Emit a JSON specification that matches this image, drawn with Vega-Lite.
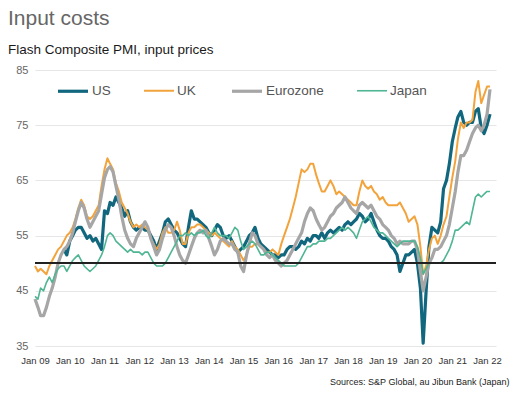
{
"$schema": "https://vega.github.io/schema/vega-lite/v6.json",
"width": 461, "height": 276,
"autosize": {"type": "none"},
"padding": {"left": 35, "top": 70, "right": 26, "bottom": 52},
"background": "white",
"config": {"view": {"stroke": null}, "font": "Liberation Sans"},
"title": {"text": "Input costs", "subtitle": "Flash Composite PMI, input prices", "anchor": "start", "frame": "group", "dx": -27, "offset": 8, "fontSize": 21, "fontWeight": "normal", "color": "#666666", "font": "Liberation Sans", "subtitleFont": "Liberation Sans", "subtitleFontSize": 13.5, "subtitleColor": "#1a1a1a", "subtitlePadding": 14},
"data": {"values": [
{"date":"2009-01-01","UK":49.5,"Eurozone":43.5,"Japan":44},
{"date":"2009-02-01","UK":48.5,"Eurozone":42,"Japan":43.5},
{"date":"2009-03-01","UK":49,"Eurozone":40.5,"Japan":45.5},
{"date":"2009-04-01","UK":48.5,"Eurozone":40.5,"Japan":45},
{"date":"2009-05-01","UK":48,"Eurozone":42,"Japan":46.5},
{"date":"2009-06-01","UK":49.5,"Eurozone":44,"Japan":47.5},
{"date":"2009-07-01","UK":50.5,"Eurozone":45.5,"Japan":46.5},
{"date":"2009-08-01","UK":51.5,"Eurozone":47.5,"Japan":48},
{"date":"2009-09-01","UK":52.5,"Eurozone":50,"Japan":49},
{"date":"2009-10-01","UK":53,"Eurozone":51.5,"Japan":49.5},
{"date":"2009-11-01","US":52.5,"UK":54,"Eurozone":52.5,"Japan":49.5},
{"date":"2009-12-01","US":51.5,"UK":55,"Eurozone":53,"Japan":48.5},
{"date":"2010-01-01","US":54,"UK":55.5,"Eurozone":54,"Japan":49.5},
{"date":"2010-02-01","US":55,"UK":56.5,"Eurozone":55.5,"Japan":50.5},
{"date":"2010-03-01","US":56,"UK":58,"Eurozone":57.5,"Japan":51},
{"date":"2010-04-01","US":56.5,"UK":60,"Eurozone":59.5,"Japan":51.5},
{"date":"2010-05-01","US":56.5,"UK":61.5,"Eurozone":61,"Japan":50.5},
{"date":"2010-06-01","US":55.5,"UK":60.5,"Eurozone":60,"Japan":49.5},
{"date":"2010-07-01","US":54.5,"UK":58.5,"Eurozone":58,"Japan":49},
{"date":"2010-08-01","US":55,"UK":58,"Eurozone":56.5,"Japan":48.5},
{"date":"2010-09-01","US":54,"UK":58.5,"Eurozone":57.5,"Japan":49},
{"date":"2010-10-01","US":54.5,"UK":59.5,"Eurozone":58.5,"Japan":49.5},
{"date":"2010-11-01","US":53.5,"UK":60.5,"Eurozone":59.5,"Japan":50.5},
{"date":"2010-12-01","US":52.5,"UK":64,"Eurozone":62.5,"Japan":51.5},
{"date":"2011-01-01","US":59.5,"UK":67,"Eurozone":65.5,"Japan":53},
{"date":"2011-02-01","US":59,"UK":69,"Eurozone":67,"Japan":55},
{"date":"2011-03-01","US":61,"UK":68,"Eurozone":67.5,"Japan":55.5},
{"date":"2011-04-01","US":60.5,"UK":67,"Eurozone":66.5,"Japan":55},
{"date":"2011-05-01","US":62,"UK":64.5,"Eurozone":64,"Japan":54},
{"date":"2011-06-01","US":61,"UK":63,"Eurozone":61.5,"Japan":53.5},
{"date":"2011-07-01","US":60,"UK":61,"Eurozone":58.5,"Japan":53},
{"date":"2011-08-01","US":58.5,"UK":60,"Eurozone":56,"Japan":52.5},
{"date":"2011-09-01","US":59.5,"UK":59,"Eurozone":54.5,"Japan":52},
{"date":"2011-10-01","US":57.5,"UK":57.5,"Eurozone":53.5,"Japan":52.5},
{"date":"2011-11-01","US":56.5,"UK":56.5,"Eurozone":53,"Japan":52},
{"date":"2011-12-01","US":56,"UK":57,"Eurozone":54.5,"Japan":52},
{"date":"2012-01-01","US":56.5,"UK":56.5,"Eurozone":55.5,"Japan":52},
{"date":"2012-02-01","US":56.5,"UK":57,"Eurozone":56.5,"Japan":51.5},
{"date":"2012-03-01","US":56,"UK":56.5,"Eurozone":57.5,"Japan":52},
{"date":"2012-04-01","US":56,"UK":56,"Eurozone":56.5,"Japan":52},
{"date":"2012-05-01","US":55,"UK":54.5,"Eurozone":54.5,"Japan":51},
{"date":"2012-06-01","US":54,"UK":53.5,"Eurozone":53,"Japan":50},
{"date":"2012-07-01","US":52.5,"UK":52.5,"Eurozone":51.5,"Japan":49.5},
{"date":"2012-08-01","US":54,"UK":53.5,"Eurozone":52.5,"Japan":49.5},
{"date":"2012-09-01","US":55.5,"UK":55.5,"Eurozone":54.5,"Japan":49.5},
{"date":"2012-10-01","US":57.5,"UK":56.5,"Eurozone":56,"Japan":50},
{"date":"2012-11-01","US":58,"UK":55.5,"Eurozone":57,"Japan":51},
{"date":"2012-12-01","US":57,"UK":55.5,"Eurozone":56.5,"Japan":52},
{"date":"2013-01-01","US":56,"UK":56,"Eurozone":55,"Japan":53},
{"date":"2013-02-01","US":55.5,"UK":57.5,"Eurozone":53,"Japan":54},
{"date":"2013-03-01","US":54.5,"UK":56,"Eurozone":51.5,"Japan":55},
{"date":"2013-04-01","US":53.5,"UK":53.5,"Eurozone":50.5,"Japan":55},
{"date":"2013-05-01","US":53,"UK":53.5,"Eurozone":50,"Japan":55.5},
{"date":"2013-06-01","US":56.5,"UK":55.5,"Eurozone":51.5,"Japan":55},
{"date":"2013-07-01","US":59.5,"UK":56.5,"Eurozone":53,"Japan":55.5},
{"date":"2013-08-01","US":58,"UK":56.5,"Eurozone":54.5,"Japan":55},
{"date":"2013-09-01","US":58,"UK":57,"Eurozone":55.5,"Japan":55.5},
{"date":"2013-10-01","US":57.5,"UK":57,"Eurozone":56,"Japan":55.5},
{"date":"2013-11-01","US":57,"UK":56.5,"Eurozone":55.5,"Japan":56},
{"date":"2013-12-01","US":56.5,"UK":56,"Eurozone":56,"Japan":55},
{"date":"2014-01-01","US":55.5,"UK":55.5,"Eurozone":54.5,"Japan":54.5},
{"date":"2014-02-01","US":55,"UK":55,"Eurozone":53,"Japan":55.5},
{"date":"2014-03-01","US":56,"UK":55.5,"Eurozone":51.5,"Japan":56.5},
{"date":"2014-04-01","US":57,"UK":55,"Eurozone":52.5,"Japan":55.5},
{"date":"2014-05-01","US":56.5,"UK":54.5,"Eurozone":54,"Japan":55},
{"date":"2014-06-01","US":55,"UK":54,"Eurozone":54.5,"Japan":55},
{"date":"2014-07-01","US":54.5,"UK":53.5,"Eurozone":54,"Japan":55},
{"date":"2014-08-01","US":55,"UK":53,"Eurozone":53.5,"Japan":54.5},
{"date":"2014-09-01","US":54,"UK":54,"Eurozone":53.5,"Japan":55.5},
{"date":"2014-10-01","US":53,"UK":53,"Eurozone":52.5,"Japan":56.5},
{"date":"2014-11-01","US":52,"UK":52.5,"Eurozone":52,"Japan":56},
{"date":"2014-12-01","US":52.5,"UK":51.5,"Eurozone":49.5,"Japan":54},
{"date":"2015-01-01","US":53,"UK":50.5,"Eurozone":48.5,"Japan":52.5},
{"date":"2015-02-01","US":54,"UK":51.5,"Eurozone":51.5,"Japan":53},
{"date":"2015-03-01","US":55,"UK":53,"Eurozone":53.5,"Japan":53.5},
{"date":"2015-04-01","US":55.5,"UK":53,"Eurozone":55.5,"Japan":54},
{"date":"2015-05-01","US":56.5,"UK":53.5,"Eurozone":55,"Japan":53.5},
{"date":"2015-06-01","US":54.5,"UK":53.5,"Eurozone":53.5,"Japan":52.5},
{"date":"2015-07-01","US":53.5,"UK":53,"Eurozone":53,"Japan":51.5},
{"date":"2015-08-01","US":53,"UK":52.5,"Eurozone":52.5,"Japan":51.5},
{"date":"2015-09-01","US":52.5,"UK":52,"Eurozone":51.5,"Japan":52},
{"date":"2015-10-01","US":52,"UK":52,"Eurozone":51,"Japan":52},
{"date":"2015-11-01","US":51.5,"UK":52.5,"Eurozone":51.5,"Japan":51.5},
{"date":"2015-12-01","US":51.5,"UK":52,"Eurozone":50.5,"Japan":51},
{"date":"2016-01-01","US":51,"UK":51.5,"Eurozone":50,"Japan":50.5},
{"date":"2016-02-01","US":51.5,"UK":53.5,"Eurozone":49.5,"Japan":50},
{"date":"2016-03-01","US":51.5,"UK":55,"Eurozone":50,"Japan":49.5},
{"date":"2016-04-01","US":52.5,"UK":56.5,"Eurozone":50.5,"Japan":49.5},
{"date":"2016-05-01","US":53,"UK":58,"Eurozone":51.5,"Japan":49.5},
{"date":"2016-06-01","US":53,"UK":60,"Eurozone":52.5,"Japan":49.5},
{"date":"2016-07-01","US":52.5,"UK":62,"Eurozone":53.5,"Japan":49.5},
{"date":"2016-08-01","US":53,"UK":64.5,"Eurozone":54.5,"Japan":50},
{"date":"2016-09-01","US":54,"UK":67,"Eurozone":55.5,"Japan":51},
{"date":"2016-10-01","US":53.5,"UK":66.5,"Eurozone":57.5,"Japan":52},
{"date":"2016-11-01","US":54.5,"UK":67,"Eurozone":59,"Japan":53},
{"date":"2016-12-01","US":54,"UK":68,"Eurozone":60,"Japan":53},
{"date":"2017-01-01","US":55,"UK":68,"Eurozone":59.5,"Japan":53.5},
{"date":"2017-02-01","US":55,"UK":66,"Eurozone":58,"Japan":53.5},
{"date":"2017-03-01","US":54.5,"UK":64.5,"Eurozone":57,"Japan":54},
{"date":"2017-04-01","US":55.5,"UK":63,"Eurozone":56,"Japan":54},
{"date":"2017-05-01","US":54.5,"UK":63,"Eurozone":56.5,"Japan":54},
{"date":"2017-06-01","US":55.5,"UK":64,"Eurozone":57.5,"Japan":54.5},
{"date":"2017-07-01","US":56,"UK":65,"Eurozone":58.5,"Japan":54.5},
{"date":"2017-08-01","US":55.5,"UK":64,"Eurozone":59,"Japan":55},
{"date":"2017-09-01","US":56,"UK":62.5,"Eurozone":60,"Japan":55.5},
{"date":"2017-10-01","US":56.5,"UK":63,"Eurozone":60.5,"Japan":56},
{"date":"2017-11-01","US":56,"UK":62.5,"Eurozone":61,"Japan":56.5},
{"date":"2017-12-01","US":57,"UK":62,"Eurozone":62,"Japan":56},
{"date":"2018-01-01","US":57.5,"UK":61.5,"Eurozone":61,"Japan":56.5},
{"date":"2018-02-01","US":57,"UK":61,"Eurozone":60,"Japan":56},
{"date":"2018-03-01","US":57.5,"UK":60.5,"Eurozone":59.5,"Japan":55.5},
{"date":"2018-04-01","US":58,"UK":60.5,"Eurozone":59,"Japan":54.5},
{"date":"2018-05-01","US":59,"UK":63,"Eurozone":60.5,"Japan":56},
{"date":"2018-06-01","US":58.5,"UK":65,"Eurozone":61,"Japan":57.5},
{"date":"2018-07-01","US":57.5,"UK":64,"Eurozone":60.5,"Japan":58},
{"date":"2018-08-01","US":58,"UK":63.5,"Eurozone":60,"Japan":58.5},
{"date":"2018-09-01","US":59,"UK":64,"Eurozone":60.5,"Japan":57.5},
{"date":"2018-10-01","US":57.5,"UK":63,"Eurozone":59.5,"Japan":56.5},
{"date":"2018-11-01","US":56,"UK":62.5,"Eurozone":58.5,"Japan":56},
{"date":"2018-12-01","US":55,"UK":61.5,"Eurozone":58,"Japan":55.5},
{"date":"2019-01-01","US":54.5,"UK":62,"Eurozone":57,"Japan":55.5},
{"date":"2019-02-01","US":54.5,"UK":61,"Eurozone":56.5,"Japan":55},
{"date":"2019-03-01","US":54,"UK":60.5,"Eurozone":56,"Japan":54.5},
{"date":"2019-04-01","US":53,"UK":60.5,"Eurozone":55,"Japan":54},
{"date":"2019-05-01","US":52.5,"UK":60.5,"Eurozone":54.5,"Japan":53.5},
{"date":"2019-06-01","US":51.5,"UK":60.5,"Eurozone":53.5,"Japan":53},
{"date":"2019-07-01","US":48.5,"UK":61,"Eurozone":54,"Japan":53.5},
{"date":"2019-08-01","US":50,"UK":60,"Eurozone":53.5,"Japan":54},
{"date":"2019-09-01","US":51.5,"UK":59,"Eurozone":53.5,"Japan":54},
{"date":"2019-10-01","US":51.5,"UK":57.5,"Eurozone":53.5,"Japan":54},
{"date":"2019-11-01","US":52,"UK":58,"Eurozone":54,"Japan":54},
{"date":"2019-12-01","US":52.5,"UK":58.5,"Eurozone":54,"Japan":54},
{"date":"2020-01-01","US":50,"UK":57,"Eurozone":52.5,"Japan":53},
{"date":"2020-02-01","US":45.5,"UK":53,"Eurozone":48.5,"Japan":51},
{"date":"2020-03-01","US":35.5,"UK":48,"Eurozone":45,"Japan":48},
{"date":"2020-04-01","US":45,"UK":49.5,"Eurozone":47.5,"Japan":49},
{"date":"2020-05-01","US":53,"UK":52.5,"Eurozone":50,"Japan":50},
{"date":"2020-06-01","US":56.5,"UK":54.5,"Eurozone":51,"Japan":50},
{"date":"2020-07-01","US":56,"UK":55,"Eurozone":52.5,"Japan":50},
{"date":"2020-08-01","US":55.5,"UK":53.5,"Eurozone":52.5,"Japan":50},
{"date":"2020-09-01","US":57.5,"UK":55,"Eurozone":53,"Japan":50},
{"date":"2020-10-01","US":63.5,"UK":57,"Eurozone":54,"Japan":50.5},
{"date":"2020-11-01","US":65,"UK":58.5,"Eurozone":55,"Japan":51.5},
{"date":"2020-12-01","US":68,"UK":62,"Eurozone":57,"Japan":52.5},
{"date":"2021-01-01","US":72,"UK":65.5,"Eurozone":60,"Japan":54},
{"date":"2021-02-01","US":74.5,"UK":68.5,"Eurozone":63,"Japan":56},
{"date":"2021-03-01","US":76.5,"UK":72.5,"Eurozone":66.5,"Japan":56},
{"date":"2021-04-01","US":77.5,"UK":75.5,"Eurozone":69.5,"Japan":56.5},
{"date":"2021-05-01","US":75.5,"UK":74.5,"Eurozone":69.5,"Japan":57},
{"date":"2021-06-01","US":75,"UK":75.5,"Eurozone":70.5,"Japan":57.5},
{"date":"2021-07-01","US":75.5,"UK":75.5,"Eurozone":72,"Japan":57},
{"date":"2021-08-01","US":75.5,"UK":76,"Eurozone":73.5,"Japan":59.5},
{"date":"2021-09-01","US":77.5,"UK":81,"Eurozone":74.5,"Japan":62},
{"date":"2021-10-01","US":78,"UK":83,"Eurozone":75,"Japan":62.5},
{"date":"2021-11-01","US":74.5,"UK":79,"Eurozone":74,"Japan":62},
{"date":"2021-12-01","US":73.5,"UK":80.5,"Eurozone":75,"Japan":62.5},
{"date":"2022-01-01","US":75,"UK":82,"Eurozone":77,"Japan":63},
{"date":"2022-02-01","US":77,"UK":82,"Eurozone":81.5,"Japan":63}
]},
"transform": [{"fold": ["US", "UK", "Eurozone", "Japan"], "as": ["series", "value"]}, {"filter": "isValid(datum.value)"}],
"layer": [
{"transform": [{"filter": "datum.series === 'US'"}], "mark": {"type": "line", "strokeJoin": "round"},
 "encoding": {
  "x": {"field": "date", "type": "temporal", "scale": {"type": "utc", "domain": [{"year": 2009, "month": 1, "date": 1, "utc": true}, {"year": 2022, "month": 4, "date": 5, "utc": true}]}, "axis": {"title": "Sources: S&P Global, au Jibun Bank (Japan)", "format": "%b %y", "tickCount": {"interval": "year", "step": 1}, "grid": false, "domain": false, "ticks": false, "labelFontSize": 9.5, "labelColor": "#333333", "labelPadding": 9, "labelFlush": false, "labelOverlap": false, "titleFontSize": 9, "titleFontWeight": "normal", "titleColor": "#222222", "titleAnchor": "end", "titleAlign": "right", "titleX": 474, "titlePadding": 13}},
  "y": {"field": "value", "type": "quantitative", "scale": {"domain": [35, 85]}, "axis": {"title": null, "values": [35, 45, 55, 65, 75, 85], "grid": true, "gridColor": "#e6e6e6", "domain": false, "ticks": false, "labelFontSize": 11, "labelColor": "#666666", "labelPadding": 7}},
  "color": {"field": "series", "type": "nominal", "scale": {"domain": ["US", "UK", "Eurozone", "Japan"], "range": ["#11677e", "#f3a33c", "#a6a6a6", "#4fb594"]}, "legend": {"title": null, "orient": "none", "legendX": 21, "legendY": 4, "direction": "horizontal", "symbolType": "stroke", "symbolSize": 900, "labelFontSize": 13.5, "labelColor": "#555555", "labelOffset": 2, "columnPadding": 29, "padding": 0}},
  "strokeWidth": {"field": "series", "type": "nominal", "scale": {"type": "ordinal", "domain": ["US", "UK", "Eurozone", "Japan"], "range": [3.2, 2, 3.2, 1.6]}, "legend": {"title": null, "orient": "none", "legendX": 21, "legendY": 4, "direction": "horizontal", "symbolType": "stroke", "symbolSize": 900, "labelFontSize": 13.5, "labelColor": "#555555", "labelOffset": 2, "columnPadding": 29, "padding": 0}}
 }},
{"transform": [{"filter": "datum.series === 'UK'"}], "mark": {"type": "line", "strokeJoin": "round"},
 "encoding": {
  "x": {"field": "date", "type": "temporal", "scale": {"type": "utc", "domain": [{"year": 2009, "month": 1, "date": 1, "utc": true}, {"year": 2022, "month": 4, "date": 5, "utc": true}]}, "axis": {"title": "Sources: S&P Global, au Jibun Bank (Japan)", "format": "%b %y", "tickCount": {"interval": "year", "step": 1}, "grid": false, "domain": false, "ticks": false, "labelFontSize": 9.5, "labelColor": "#333333", "labelPadding": 9, "labelFlush": false, "labelOverlap": false, "titleFontSize": 9, "titleFontWeight": "normal", "titleColor": "#222222", "titleAnchor": "end", "titleAlign": "right", "titleX": 474, "titlePadding": 13}},
  "y": {"field": "value", "type": "quantitative", "scale": {"domain": [35, 85]}, "axis": {"title": null, "values": [35, 45, 55, 65, 75, 85], "grid": true, "gridColor": "#e6e6e6", "domain": false, "ticks": false, "labelFontSize": 11, "labelColor": "#666666", "labelPadding": 7}},
  "color": {"field": "series", "type": "nominal", "scale": {"domain": ["US", "UK", "Eurozone", "Japan"], "range": ["#11677e", "#f3a33c", "#a6a6a6", "#4fb594"]}, "legend": {"title": null, "orient": "none", "legendX": 21, "legendY": 4, "direction": "horizontal", "symbolType": "stroke", "symbolSize": 900, "labelFontSize": 13.5, "labelColor": "#555555", "labelOffset": 2, "columnPadding": 29, "padding": 0}},
  "strokeWidth": {"field": "series", "type": "nominal", "scale": {"type": "ordinal", "domain": ["US", "UK", "Eurozone", "Japan"], "range": [3.2, 2, 3.2, 1.6]}, "legend": {"title": null, "orient": "none", "legendX": 21, "legendY": 4, "direction": "horizontal", "symbolType": "stroke", "symbolSize": 900, "labelFontSize": 13.5, "labelColor": "#555555", "labelOffset": 2, "columnPadding": 29, "padding": 0}}
 }},
{"transform": [{"filter": "datum.series === 'Eurozone'"}], "mark": {"type": "line", "strokeJoin": "round"},
 "encoding": {
  "x": {"field": "date", "type": "temporal", "scale": {"type": "utc", "domain": [{"year": 2009, "month": 1, "date": 1, "utc": true}, {"year": 2022, "month": 4, "date": 5, "utc": true}]}, "axis": {"title": "Sources: S&P Global, au Jibun Bank (Japan)", "format": "%b %y", "tickCount": {"interval": "year", "step": 1}, "grid": false, "domain": false, "ticks": false, "labelFontSize": 9.5, "labelColor": "#333333", "labelPadding": 9, "labelFlush": false, "labelOverlap": false, "titleFontSize": 9, "titleFontWeight": "normal", "titleColor": "#222222", "titleAnchor": "end", "titleAlign": "right", "titleX": 474, "titlePadding": 13}},
  "y": {"field": "value", "type": "quantitative", "scale": {"domain": [35, 85]}, "axis": {"title": null, "values": [35, 45, 55, 65, 75, 85], "grid": true, "gridColor": "#e6e6e6", "domain": false, "ticks": false, "labelFontSize": 11, "labelColor": "#666666", "labelPadding": 7}},
  "color": {"field": "series", "type": "nominal", "scale": {"domain": ["US", "UK", "Eurozone", "Japan"], "range": ["#11677e", "#f3a33c", "#a6a6a6", "#4fb594"]}, "legend": {"title": null, "orient": "none", "legendX": 21, "legendY": 4, "direction": "horizontal", "symbolType": "stroke", "symbolSize": 900, "labelFontSize": 13.5, "labelColor": "#555555", "labelOffset": 2, "columnPadding": 29, "padding": 0}},
  "strokeWidth": {"field": "series", "type": "nominal", "scale": {"type": "ordinal", "domain": ["US", "UK", "Eurozone", "Japan"], "range": [3.2, 2, 3.2, 1.6]}, "legend": {"title": null, "orient": "none", "legendX": 21, "legendY": 4, "direction": "horizontal", "symbolType": "stroke", "symbolSize": 900, "labelFontSize": 13.5, "labelColor": "#555555", "labelOffset": 2, "columnPadding": 29, "padding": 0}}
 }},
{"transform": [{"filter": "datum.series === 'Japan'"}], "mark": {"type": "line", "strokeJoin": "round"},
 "encoding": {
  "x": {"field": "date", "type": "temporal", "scale": {"type": "utc", "domain": [{"year": 2009, "month": 1, "date": 1, "utc": true}, {"year": 2022, "month": 4, "date": 5, "utc": true}]}, "axis": {"title": "Sources: S&P Global, au Jibun Bank (Japan)", "format": "%b %y", "tickCount": {"interval": "year", "step": 1}, "grid": false, "domain": false, "ticks": false, "labelFontSize": 9.5, "labelColor": "#333333", "labelPadding": 9, "labelFlush": false, "labelOverlap": false, "titleFontSize": 9, "titleFontWeight": "normal", "titleColor": "#222222", "titleAnchor": "end", "titleAlign": "right", "titleX": 474, "titlePadding": 13}},
  "y": {"field": "value", "type": "quantitative", "scale": {"domain": [35, 85]}, "axis": {"title": null, "values": [35, 45, 55, 65, 75, 85], "grid": true, "gridColor": "#e6e6e6", "domain": false, "ticks": false, "labelFontSize": 11, "labelColor": "#666666", "labelPadding": 7}},
  "color": {"field": "series", "type": "nominal", "scale": {"domain": ["US", "UK", "Eurozone", "Japan"], "range": ["#11677e", "#f3a33c", "#a6a6a6", "#4fb594"]}, "legend": {"title": null, "orient": "none", "legendX": 21, "legendY": 4, "direction": "horizontal", "symbolType": "stroke", "symbolSize": 900, "labelFontSize": 13.5, "labelColor": "#555555", "labelOffset": 2, "columnPadding": 29, "padding": 0}},
  "strokeWidth": {"field": "series", "type": "nominal", "scale": {"type": "ordinal", "domain": ["US", "UK", "Eurozone", "Japan"], "range": [3.2, 2, 3.2, 1.6]}, "legend": {"title": null, "orient": "none", "legendX": 21, "legendY": 4, "direction": "horizontal", "symbolType": "stroke", "symbolSize": 900, "labelFontSize": 13.5, "labelColor": "#555555", "labelOffset": 2, "columnPadding": 29, "padding": 0}}
 }},
{"mark": {"type": "rule", "color": "#222222", "strokeWidth": 1}, "encoding": {"y": {"datum": 50}}}
]
}
